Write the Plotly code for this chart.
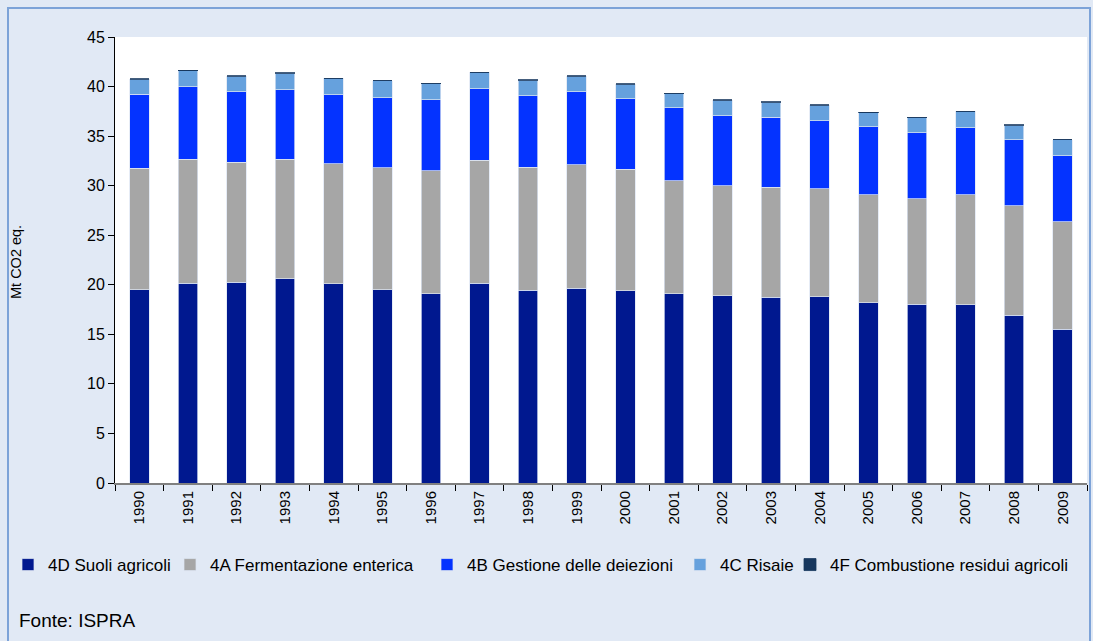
import plotly.graph_objects as go

years = [str(y) for y in range(1990, 2010)]
suoli = [19.50, 20.15, 20.25, 20.59, 20.08, 19.51, 19.10, 20.15, 19.47, 19.64,
         19.41, 19.10, 18.87, 18.74, 18.77, 18.20, 18.03, 18.00, 16.95, 15.50]
ferment = [12.25, 12.51, 12.11, 12.07, 12.14, 12.28, 12.40, 12.44, 12.38, 12.48,
           12.24, 11.40, 11.10, 11.10, 10.93, 10.90, 10.66, 11.10, 11.00, 10.84]
deiezioni = [7.45, 7.33, 7.13, 7.03, 6.93, 7.09, 7.18, 7.17, 7.23, 7.37,
             7.13, 7.37, 7.10, 7.06, 6.86, 6.86, 6.66, 6.76, 6.69, 6.69]
risaie = [1.55, 1.63, 1.56, 1.66, 1.67, 1.70, 1.63, 1.66, 1.57, 1.56,
          1.46, 1.43, 1.56, 1.53, 1.56, 1.42, 1.53, 1.63, 1.47, 1.59]
combust = [0.02] * 20

series = [
    ("4D Suoli agricoli", suoli, "#00188f"),
    ("4A Fermentazione enterica", ferment, "#a6a6a6"),
    ("4B Gestione delle deiezioni", deiezioni, "#0433ff"),
    ("4C Risaie", risaie, "#66a1dd"),
    ("4F Combustione residui agricoli", combust, "#17375e"),
]

FONT = "Liberation Sans, Arial, sans-serif"
W, H = 1093, 641
ML, MR, MT, MB = 115, 6, 37, 158
PW = W - ML - MR
PH = H - MT - MB

def px(x):
    return (x - ML) / PW

def py(y):
    return (H - MB - y) / PH

legend_x = [8, 170, 427, 680, 790]

fig = go.Figure()
for i, (name, vals, col) in enumerate(series):
    lname = "legend" if i == 0 else f"legend{i+1}"
    fig.add_trace(go.Bar(
        x=years, y=vals, name=name,
        marker=dict(color=col, line=dict(color="rgba(220,228,242,0.9)" if i < 4 else col, width=0.8)),
        legend=lname,
    ))

layout_legends = {}
for i in range(5):
    key = "legend" if i == 0 else f"legend{i+1}"
    layout_legends[key] = dict(
        x=px(legend_x[i]), y=py(565), xanchor="left", yanchor="middle",
        orientation="h", bgcolor="rgba(0,0,0,0)", borderwidth=0,
        font=dict(family=FONT, size=17, color="#000"),
        itemwidth=30,
    )

fig.update_layout(
    barmode="stack",
    bargap=0.6,
    width=W, height=H,
    margin=dict(l=ML, r=MR, t=MT, b=MB, pad=0),
    paper_bgcolor="#e1e9f5",
    plot_bgcolor="#ffffff",
    font=dict(family=FONT, size=15, color="#000"),
    showlegend=True,
    **layout_legends,
    xaxis=dict(
        type="category", tickangle=-90, showgrid=False,
        showline=True, linecolor="#808080", linewidth=2,
        ticks="outside", tickson="boundaries", ticklen=6, tickcolor="#000", tickwidth=1,
        tickfont=dict(size=15),
    ),
    yaxis=dict(
        range=[0, 45], dtick=5, showgrid=False, zeroline=False,
        showline=True, linecolor="#000", linewidth=1,
        ticks="outside", ticklen=6, tickcolor="#000",
        tickfont=dict(size=16),
    ),
    shapes=[dict(
        type="rect", xref="paper", yref="paper",
        x0=px(8), x1=px(1090), y0=py(8), y1=py(H + 10),
        line=dict(color="#7da3d8", width=2), fillcolor="rgba(0,0,0,0)", layer="below",
    )],
    annotations=[
        dict(text="Mt CO2 eq.", xref="paper", yref="paper", x=px(16), y=py(262),
             textangle=-90, showarrow=False, font=dict(size=14.5), xanchor="center", yanchor="middle"),
        dict(text="Fonte: ISPRA", xref="paper", yref="paper", x=px(17), y=py(620),
             showarrow=False, font=dict(family="Liberation Sans Narrow, Arial Narrow, " + FONT, size=19),
             xanchor="left", yanchor="middle"),
    ],
)

fig.write_html("out.html", config={"displayModeBar": False},
               post_script="document.body.style.margin='0';document.body.style.overflow='hidden';")
